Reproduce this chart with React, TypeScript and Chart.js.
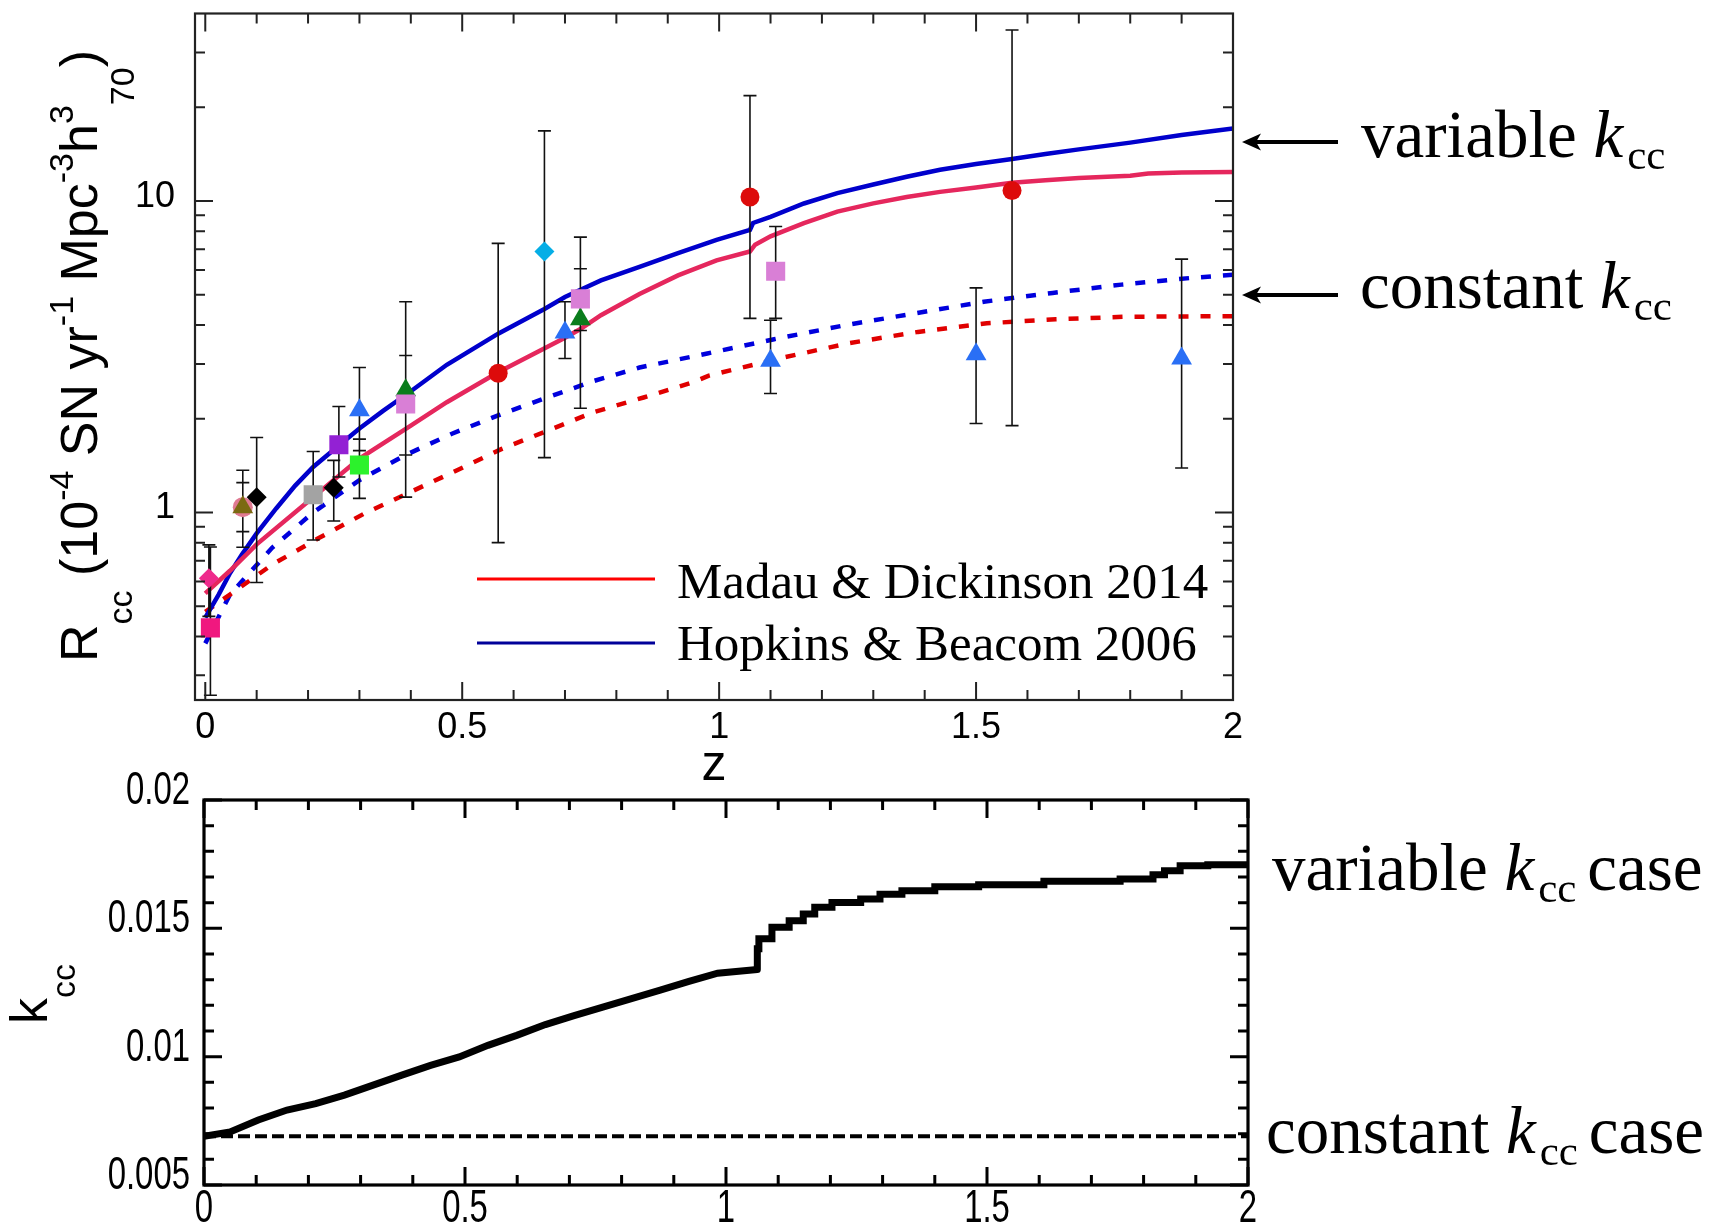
import React, { useEffect, useRef } from 'react';
import { Chart, registerables } from 'chart.js';

Chart.register(...registerables);

const SANS = '"Liberation Sans", Arial, Helvetica, sans-serif';
const SERIF = '"Liberation Serif", "Times New Roman", Times, serif';

// ---------------- Top panel: model curves ----------------
const mdVarZ = [0, 0.048, 0.1, 0.21, 0.3, 0.4, 0.47, 0.57, 0.7, 0.73, 0.77, 0.845, 0.92, 0.995, 1.06, 1.07, 1.1, 1.165, 1.23, 1.3, 1.365, 1.43, 1.5, 1.57, 1.635, 1.7, 1.8, 1.835, 1.9, 2.0];
const mdVarR = [0.55, 0.65, 0.79, 1.12, 1.49, 1.9, 2.26, 2.82, 3.64, 3.88, 4.3, 5.03, 5.77, 6.45, 6.89, 7.24, 7.7, 8.49, 9.25, 9.83, 10.3, 10.7, 11.05, 11.45, 11.65, 11.85, 12.05, 12.25, 12.35, 12.4];

const hbVarZ = [0, 0.026, 0.048, 0.071, 0.1, 0.138, 0.175, 0.21, 0.26, 0.3, 0.346, 0.4, 0.47, 0.57, 0.66, 0.7, 0.77, 0.845, 0.92, 0.995, 1.06, 1.066, 1.1, 1.165, 1.23, 1.3, 1.365, 1.43, 1.5, 1.57, 1.635, 1.7, 1.8, 1.9, 2.0];
const hbVarR = [0.46, 0.545, 0.638, 0.731, 0.857, 1.03, 1.22, 1.4, 1.64, 1.86, 2.12, 2.45, 2.98, 3.75, 4.5, 4.92, 5.56, 6.15, 6.8, 7.5, 8.08, 8.5, 8.9, 9.82, 10.6, 11.3, 11.97, 12.6, 13.15, 13.65, 14.15, 14.65, 15.4, 16.3, 17.1];

const mdConstZ = [0, 0.048, 0.13, 0.22, 0.31, 0.4, 0.49, 0.577, 0.666, 0.756, 0.853, 0.95, 0.98, 1.116, 1.25, 1.387, 1.521, 1.655, 1.789, 2.0];
const mdConstR = [0.48, 0.545, 0.68, 0.826, 0.993, 1.165, 1.366, 1.6, 1.83, 2.1, 2.34, 2.62, 2.75, 3.12, 3.49, 3.8, 4.05, 4.17, 4.25, 4.27];

const hbConstZ = [0, 0.048, 0.13, 0.21, 0.3, 0.39, 0.48, 0.57, 0.665, 0.755, 0.845, 0.977, 1.107, 1.244, 1.378, 1.515, 1.649, 1.783, 1.917, 2.0];
const hbConstR = [0.38, 0.545, 0.77, 1.0, 1.27, 1.53, 1.79, 2.05, 2.34, 2.64, 2.92, 3.24, 3.6, 3.99, 4.35, 4.75, 5.07, 5.39, 5.66, 5.8];

const legendLabels = ['Madau & Dickinson 2014', 'Hopkins & Beacom 2006'];

// ---------------- Top panel: observed rates ----------------
const redCircleZ = [0.57, 1.06, 1.57];
const redCircleR = [2.8, 10.3, 10.8];
const redCircleLo = [0.8, 4.2, 1.9];
const redCircleHi = [7.31, 21.8, 35.4];

const blueTriZ = [0.3, 0.7, 1.1, 1.5, 1.9];
const blueTriR = [2.13, 3.78, 3.07, 3.22, 3.12];
const blueTriLo = [1.58, 3.12, 2.41, 1.93, 1.39];
const blueTriHi = [2.92, 4.75, 4.14, 5.26, 6.51];

const plumSqZ = [0.39, 0.73, 1.11];
const plumSqR = [2.23, 4.85, 5.95];
const plumSqLo = [1.12, 2.16, 4.2];
const plumSqHi = [4.75, 7.66, 8.28];

const greenTriZ = [0.39, 0.73];
const greenTriR = [2.47, 4.17];
const greenTriLo = [1.53, 3.84];
const greenTriHi = [3.19, 6.06];

const cyanDiaZ = [0.66];
const cyanDiaR = [6.89];
const cyanDiaLo = [1.5];
const cyanDiaHi = [16.8];

const pinkDiaZ = [0.007];
const pinkDiaR = [0.615];
const pinkDiaLo = [0.464];
const pinkDiaHi = [0.787];

const pinkSqZ = [0.01];
const pinkSqR = [0.426];
const pinkSqLo = [0.259];
const pinkSqHi = [0.775];

const pinkCircZ = [0.073];
const pinkCircR = [1.04];
const pinkCircLo = [0.773];
const pinkCircHi = [1.366];

const oliveTriZ = [0.073];
const oliveTriR = [1.04];
const oliveTriLo = [0.868];
const oliveTriHi = [1.247];

const blackDiaZ = [0.1, 0.25];
const blackDiaR = [1.12, 1.2];
const blackDiaLo = [0.596, 0.939];
const blackDiaHi = [1.74, 1.47];

const graySqZ = [0.21];
const graySqR = [1.14];
const graySqLo = [0.816];
const graySqHi = [1.57];

const purpleSqZ = [0.26];
const purpleSqR = [1.65];
const purpleSqLo = [1.3];
const purpleSqHi = [2.19];

const limeSqZ = [0.3];
const limeSqR = [1.42];
const limeSqLo = [1.11];
const limeSqHi = [1.72];

// ---------------- Axis ticks ----------------
const zMajorTicks = [0, 0.5, 1, 1.5, 2];
const zMinorTicks = [0.1, 0.2, 0.3, 0.4, 0.6, 0.7, 0.8, 0.9, 1.1, 1.2, 1.3, 1.4, 1.6, 1.7, 1.8, 1.9];
const rMajorTicks = [1, 10];
const rMinorTicks = [0.3, 0.4, 0.5, 0.6, 0.7, 0.8, 0.9, 2, 3, 4, 5, 6, 7, 8, 9, 20, 30];
const kMajorTicks = [0.005, 0.01, 0.015, 0.02];
const kMinorTicks = [0.006, 0.007, 0.008, 0.009, 0.011, 0.012, 0.013, 0.014, 0.016, 0.017, 0.018, 0.019];

// ---------------- Bottom panel: k_cc ----------------
const kVarLowZ = [0, 0.05, 0.104, 0.159, 0.214, 0.269, 0.324, 0.379, 0.434, 0.489, 0.544, 0.599, 0.654, 0.709, 0.764, 0.819, 0.874, 0.929, 0.984, 1.06];
const kVarLow = [0.0069, 0.00707, 0.00753, 0.00792, 0.00817, 0.0085, 0.00889, 0.00928, 0.00966, 0.00999, 0.01044, 0.01083, 0.01125, 0.0116, 0.01193, 0.01226, 0.01259, 0.01293, 0.01325, 0.0134];
const kVarHighZ = [1.06, 1.063, 1.088, 1.121, 1.148, 1.17, 1.203, 1.258, 1.295, 1.337, 1.4, 1.484, 1.609, 1.755, 1.818, 1.84, 1.87, 1.923, 2.0];
const kVarHigh = [0.0134, 0.0142, 0.01459, 0.01504, 0.0153, 0.01556, 0.01582, 0.01601, 0.01614, 0.01633, 0.01646, 0.01662, 0.0167, 0.01683, 0.01692, 0.01709, 0.01724, 0.01744, 0.01748];
const kConstZ = [0, 2];
const kConst = [0.0069, 0.0069];

const pts = (xs: number[], ys: number[]) => xs.map((x, i) => ({ x, y: ys[i] }));

function makeFramePlugin(o: any) {
  return {
    id: 'frameTicks',
    afterDatasetsDraw(chart: any) {
      const { ctx, chartArea: a } = chart;
      const xs = chart.scales.x;
      const ys = chart.scales.y;
      ctx.save();
      ctx.strokeStyle = o.color;
      ctx.lineWidth = o.tickWidth;
      ctx.lineCap = 'butt';
      ctx.beginPath();
      const xt = (v: number, len: number) => {
        const p = xs.getPixelForValue(v);
        ctx.moveTo(p, a.bottom); ctx.lineTo(p, a.bottom - len);
        ctx.moveTo(p, a.top); ctx.lineTo(p, a.top + len);
      };
      const yt = (v: number, len: number) => {
        const p = ys.getPixelForValue(v);
        ctx.moveTo(a.left, p); ctx.lineTo(a.left + len, p);
        ctx.moveTo(a.right, p); ctx.lineTo(a.right - len, p);
      };
      o.xMajor.forEach((v: number) => xt(v, o.majorLen));
      o.xMinor.forEach((v: number) => xt(v, o.minorLen));
      o.yMajor.forEach((v: number) => yt(v, o.majorLen));
      o.yMinor.forEach((v: number) => yt(v, o.minorLen));
      ctx.stroke();
      ctx.lineWidth = o.frameWidth;
      ctx.strokeRect(a.left, a.top, a.right - a.left, a.bottom - a.top);
      ctx.restore();
    },
  };
}

// Condensed tick labels for the lower panel (the original uses a narrow sans face)
function makeNarrowLabelPlugin(xVals: number[], yVals: number[]) {
  return {
    id: 'narrowLabels',
    afterDraw(chart: any) {
      const { ctx, chartArea: a } = chart;
      const xs = chart.scales.x;
      const ys = chart.scales.y;
      ctx.save();
      ctx.fillStyle = '#000';
      ctx.font = `47px ${SANS}`;
      ctx.textBaseline = 'middle';
      yVals.forEach((v) => {
        ctx.save();
        ctx.translate(a.left - 14, ys.getPixelForValue(v) - 9);
        ctx.scale(0.7, 1);
        ctx.textAlign = 'right';
        ctx.fillText(String(v), 0, 0);
        ctx.restore();
      });
      xVals.forEach((v) => {
        ctx.save();
        ctx.translate(xs.getPixelForValue(v), a.bottom + 24);
        ctx.scale(0.7, 1);
        ctx.textAlign = 'center';
        ctx.fillText(String(v), 0, 0);
        ctx.restore();
      });
      ctx.restore();
    },
  };
}

function makeErrorBarPlugin() {
  let done = false;
  return {
    id: 'errorBars',
    beforeDatasetsDraw() { done = false; },
    beforeDatasetDraw(chart: any, args: any) {
      const ds = chart.data.datasets[args.index];
      if (done || !ds.errLo) return;
      done = true;
      const { ctx, chartArea: a } = chart;
      const xs = chart.scales.x;
      const ys = chart.scales.y;
      ctx.save();
      ctx.beginPath();
      ctx.rect(a.left, a.top, a.right - a.left, a.bottom - a.top);
      ctx.clip();
      ctx.strokeStyle = '#111';
      ctx.lineWidth = 1.6;
      ctx.beginPath();
      const cap = 6.5;
      chart.data.datasets.forEach((d: any) => {
        if (!d.errLo) return;
        d.data.forEach((p: any, i: number) => {
          const x = xs.getPixelForValue(p.x);
          const y1 = ys.getPixelForValue(d.errLo[i]);
          const y2 = ys.getPixelForValue(d.errHi[i]);
          ctx.moveTo(x, y1); ctx.lineTo(x, y2);
          ctx.moveTo(x - cap, y1); ctx.lineTo(x + cap, y1);
          ctx.moveTo(x - cap, y2); ctx.lineTo(x + cap, y2);
        });
      });
      ctx.stroke();
      ctx.restore();
    },
  };
}

function makeLegendPlugin() {
  return {
    id: 'innerLegend',
    afterDraw(chart: any) {
      const ctx = chart.ctx;
      const entries = [
        { label: legendLabels[0], color: '#ff0000', lineY: 579, base: 598 },
        { label: legendLabels[1], color: '#000099', lineY: 643, base: 660 },
      ];
      ctx.save();
      entries.forEach((e) => {
        ctx.strokeStyle = e.color;
        ctx.lineWidth = 3;
        ctx.beginPath();
        ctx.moveTo(477, e.lineY);
        ctx.lineTo(655, e.lineY);
        ctx.stroke();
        ctx.fillStyle = '#000';
        ctx.font = `51px ${SERIF}`;
        ctx.textBaseline = 'alphabetic';
        ctx.textAlign = 'left';
        ctx.fillText(e.label, 677, e.base);
      });
      ctx.restore();
    },
  };
}

function markerSet(label: string, zs: number[], rs: number[], lo: number[], hi: number[], style: string, radius: number, color: string, order = 1) {
  return {
    label,
    data: pts(zs, rs),
    errLo: lo,
    errHi: hi,
    showLine: false,
    pointStyle: style,
    pointRadius: radius,
    pointHoverRadius: radius,
    pointBackgroundColor: color,
    pointBorderColor: color,
    pointBorderWidth: 0,
    order,
  };
}

function curveSet(label: string, zs: number[], rs: number[], color: string, dash: number[]) {
  return {
    label,
    data: pts(zs, rs),
    showLine: true,
    borderColor: color,
    borderWidth: 4.5,
    borderDash: dash,
    pointRadius: 0,
    pointHoverRadius: 0,
    tension: 0,
    fill: false,
    order: 5,
  };
}

function topConfig(): any {
  return {
    type: 'scatter',
    data: {
      datasets: [
        markerSet('oliveTri', oliveTriZ, oliveTriR, oliveTriLo, oliveTriHi, 'triangle', 12, '#7b6a12', 0),
        markerSet('redCircle', redCircleZ, redCircleR, redCircleLo, redCircleHi, 'circle', 9.5, '#dd0b0b'),
        markerSet('blueTri', blueTriZ, blueTriR, blueTriLo, blueTriHi, 'triangle', 12, '#2a6ff5'),
        markerSet('plumSq', plumSqZ, plumSqR, plumSqLo, plumSqHi, 'rect', 13.5, '#d97fd6'),
        markerSet('greenTri', greenTriZ, greenTriR, greenTriLo, greenTriHi, 'triangle', 12, '#0a7d1c'),
        markerSet('cyanDia', cyanDiaZ, cyanDiaR, cyanDiaLo, cyanDiaHi, 'rectRot', 10, '#05aee6'),
        markerSet('pinkDia', pinkDiaZ, pinkDiaR, pinkDiaLo, pinkDiaHi, 'rectRot', 10, '#ee2a8c'),
        markerSet('pinkSq', pinkSqZ, pinkSqR, pinkSqLo, pinkSqHi, 'rect', 13.5, '#f0187f'),
        markerSet('blackDia', blackDiaZ, blackDiaR, blackDiaLo, blackDiaHi, 'rectRot', 10, '#000000'),
        markerSet('graySq', graySqZ, graySqR, graySqLo, graySqHi, 'rect', 13.5, '#a3a3a3'),
        markerSet('purpleSq', purpleSqZ, purpleSqR, purpleSqLo, purpleSqHi, 'rect', 13.5, '#9321d4'),
        markerSet('limeSq', limeSqZ, limeSqR, limeSqLo, limeSqHi, 'rect', 13.5, '#2cf22c'),
        markerSet('pinkCirc', pinkCircZ, pinkCircR, pinkCircLo, pinkCircHi, 'circle', 10, '#e07a92', 2),
        curveSet(legendLabels[0] + ' (variable)', mdVarZ, mdVarR, '#e5275d', []),
        curveSet(legendLabels[1] + ' (variable)', hbVarZ, hbVarR, '#0000cc', []),
        curveSet(legendLabels[0] + ' (constant)', mdConstZ, mdConstR, '#e00000', [10, 12]),
        curveSet(legendLabels[1] + ' (constant)', hbConstZ, hbConstR, '#0000dd', [10, 12]),
      ],
    },
    options: {
      animation: false,
      responsive: false,
      maintainAspectRatio: false,
      devicePixelRatio: 1,
      layout: { padding: { left: 0, top: 9, right: 17, bottom: 0 } },
      plugins: { legend: { display: false }, tooltip: { enabled: false } },
      scales: {
        x: {
          type: 'linear',
          min: -0.02,
          max: 2,
          position: 'bottom',
          border: { display: false },
          grid: { display: false, drawTicks: false },
          afterBuildTicks: (s: any) => { s.ticks = zMajorTicks.map((v) => ({ value: v })); },
          afterFit: (s: any) => { s.height = 100; s.paddingLeft = 0; s.paddingRight = 0; },
          ticks: {
            font: { family: SANS, size: 36 },
            color: '#000',
            padding: 6,
            maxRotation: 0,
            autoSkip: false,
            callback: (v: any) => String(v),
          },
          title: {
            display: true,
            text: 'z',
            color: '#000',
            font: { family: SANS, size: 50 },
            padding: { top: 0, bottom: 4 },
          },
        },
        y: {
          type: 'logarithmic',
          min: 0.25,
          max: 40,
          border: { display: false },
          grid: { display: false, drawTicks: false },
          afterBuildTicks: (s: any) => { s.ticks = rMajorTicks.map((v) => ({ value: v })); },
          afterFit: (s: any) => { s.width = 195; s.paddingTop = 0; s.paddingBottom = 0; },
          ticks: {
            font: { family: SANS, size: 36 },
            color: '#000',
            padding: 20,
            labelOffset: -4,
            autoSkip: false,
            callback: (v: any) => String(v),
          },
        },
      },
    },
    plugins: [
      makeErrorBarPlugin(),
      makeFramePlugin({ color: '#222', tickWidth: 2, frameWidth: 2.2, majorLen: 18, minorLen: 10, xMajor: zMajorTicks, xMinor: zMinorTicks, yMajor: rMajorTicks, yMinor: rMinorTicks }),
      makeLegendPlugin(),
    ],
  };
}

function botConfig(): any {
  return {
    type: 'scatter',
    data: {
      datasets: [
        {
          label: 'variable kcc case',
          data: pts(kVarLowZ, kVarLow),
          showLine: true,
          borderColor: '#000',
          borderWidth: 7,
          pointRadius: 0,
          tension: 0,
        },
        {
          label: 'variable kcc case (high z)',
          data: pts(kVarHighZ, kVarHigh),
          showLine: true,
          stepped: 'after',
          borderColor: '#000',
          borderWidth: 7,
          borderCapStyle: 'round',
          pointRadius: 0,
          tension: 0,
        },
        {
          label: 'constant kcc case',
          data: pts(kConstZ, kConst),
          showLine: true,
          borderColor: '#000',
          borderWidth: 4,
          borderDash: [12, 5],
          pointRadius: 0,
        },
      ],
    },
    options: {
      animation: false,
      responsive: false,
      maintainAspectRatio: false,
      devicePixelRatio: 1,
      layout: { padding: { left: 0, top: 30, right: 12, bottom: 0 } },
      plugins: { legend: { display: false }, tooltip: { enabled: false } },
      scales: {
        x: {
          type: 'linear',
          min: 0,
          max: 2,
          border: { display: false },
          grid: { display: false, drawTicks: false },
          afterBuildTicks: (s: any) => { s.ticks = zMajorTicks.map((v) => ({ value: v })); },
          afterFit: (s: any) => { s.height = 40; s.paddingLeft = 0; s.paddingRight = 0; },
          ticks: { display: false },
        },
        y: {
          type: 'linear',
          min: 0.005,
          max: 0.02,
          border: { display: false },
          grid: { display: false, drawTicks: false },
          afterBuildTicks: (s: any) => { s.ticks = kMajorTicks.map((v) => ({ value: v })); },
          afterFit: (s: any) => { s.width = 204; s.paddingTop = 0; s.paddingBottom = 0; },
          ticks: { display: false },
        },
      },
    },
    plugins: [
      makeFramePlugin({ color: '#000', tickWidth: 3, frameWidth: 3.2, majorLen: 18, minorLen: 10, xMajor: zMajorTicks, xMinor: zMinorTicks, yMajor: kMajorTicks, yMinor: kMinorTicks }),
      makeNarrowLabelPlugin(zMajorTicks, kMajorTicks),
    ],
  };
}

const Script = ({ dy, size = 34, children }: any) => (
  <span style={{ fontSize: size, position: 'relative', top: dy }}>{children}</span>
);

const Anno = ({ left, baseline, first, last }: any) => (
  <div
    style={{
      position: 'absolute',
      left,
      top: baseline - 0.8375 * 67,
      font: `67px ${SERIF}`,
      lineHeight: '67px',
      whiteSpace: 'pre',
      color: '#000',
    }}
  >
    {first} <i>k</i>
    <span style={{ fontSize: 43, position: 'relative', top: 12, marginLeft: 4 }}>{'cc' + (last ? ' ' : '')}</span>
    {last}
  </div>
);

const Arrow = ({ y }: any) => (
  <g>
    <line x1={1254} y1={y} x2={1338} y2={y} stroke="#000" strokeWidth={4} />
    <polygon points={`1242,${y} 1261,${y - 8.5} 1256,${y} 1261,${y + 8.5}`} fill="#000" />
  </g>
);

export default function App() {
  const topRef = useRef<HTMLCanvasElement>(null);
  const botRef = useRef<HTMLCanvasElement>(null);

  useEffect(() => {
    const top = new Chart(topRef.current as HTMLCanvasElement, topConfig());
    const bot = new Chart(botRef.current as HTMLCanvasElement, botConfig());
    return () => {
      top.destroy();
      bot.destroy();
    };
  }, []);

  return (
    <div style={{ position: 'absolute', left: 0, top: 0, width: 1736, height: 1225, background: '#fff', overflow: 'hidden' }}>
      <canvas ref={topRef} width={1250} height={800} style={{ position: 'absolute', left: 0, top: 0, width: 1250, height: 800 }} />
      <canvas ref={botRef} width={1260} height={455} style={{ position: 'absolute', left: 0, top: 770, width: 1260, height: 455 }} />

      <div
        style={{
          position: 'absolute',
          left: 81.6,
          top: 356,
          transform: 'translate(-50%, -50%) rotate(-90deg)',
          font: `52px ${SANS}`,
          lineHeight: '52px',
          whiteSpace: 'pre',
          color: '#000',
        }}
      >
        R<Script dy={35}>cc</Script> (10<Script dy={-24}>-4</Script> SN yr<Script dy={-24}>-1</Script> Mpc<Script dy={-24}>-3</Script>h<Script dy={-24}>3</Script><Script dy={37}>70</Script>)
      </div>

      <div
        style={{
          position: 'absolute',
          left: 31.6,
          top: 993.5,
          transform: 'translate(-50%, -50%) rotate(-90deg)',
          font: `52px ${SANS}`,
          lineHeight: '52px',
          whiteSpace: 'pre',
          color: '#000',
        }}
      >
        k<Script dy={28}>cc</Script>
      </div>

      <svg width={1736} height={1225} style={{ position: 'absolute', left: 0, top: 0, pointerEvents: 'none' }}>
        <Arrow y={142} />
        <Arrow y={295} />
      </svg>

      <Anno left={1361} baseline={156.7} first="variable" last="" />
      <Anno left={1360} baseline={308.3} first="constant" last="" />
      <Anno left={1272} baseline={890} first="variable" last="case" />
      <Anno left={1266} baseline={1153} first="constant" last="case" />
    </div>
  );
}
